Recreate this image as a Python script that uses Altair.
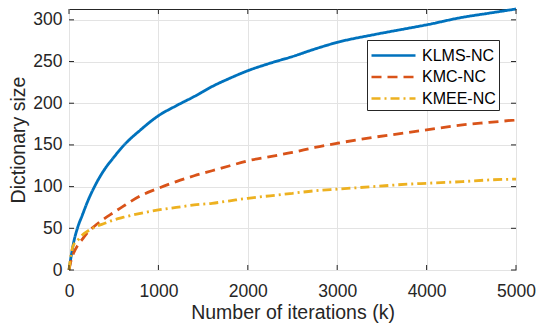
import altair as alt
import pandas as pd

# ---- data ----
iters = [0, 25, 50, 100, 150, 200, 300, 400, 500, 600, 800, 1000, 1200, 1400,
         1600, 1800, 2000, 2250, 2500, 2750, 3000, 3400, 3800, 4000, 4400, 4700, 5000]
klms_nc = [0, 17, 32, 52, 66, 80, 103, 121, 135, 148, 168, 185, 197, 208,
           220, 230, 239, 248, 256, 265, 273, 282, 290, 294, 303, 308, 313]
kmc_nc = [0, 12, 20, 30, 37, 44, 54, 62, 69, 76, 89, 98, 106, 113,
          119, 125, 131, 136, 141, 147, 152, 159, 165, 168, 174, 177, 180]
kmee_nc = [0, 20, 30, 36, 42, 46, 52, 56, 60, 63, 68, 72, 75, 78,
           80, 83, 86, 89, 92, 95, 97, 100, 103, 104, 106, 108, 109]

series = ["KLMS-NC", "KMC-NC", "KMEE-NC"]
colors = ["#0072BD", "#D95319", "#EDB120"]
dashes = [[1, 0], [10, 6], [9, 4, 2, 4]]
x_ticks = [0, 1000, 2000, 3000, 4000, 5000]
y_ticks = [0, 50, 100, 150, 200, 250, 300]
x_domain = [0, 5000]
y_domain = [0, 313]

W, H = 447, 261
FONT = "Liberation Sans"
INK = "#262626"

rows = []
for name, vals in zip(series, [klms_nc, kmc_nc, kmee_nc]):
    for k, v in zip(iters, vals):
        rows.append({"k": k, "size": v, "series": name, "order": series.index(name)})
df = pd.DataFrame(rows)

xscale = alt.Scale(domain=x_domain, nice=False, zero=False)
yscale = alt.Scale(domain=y_domain, nice=False, zero=False)
xaxis = alt.Axis(values=x_ticks, title="Number of iterations (k)",
                 grid=True, ticks=False, tickSize=0, domain=False,
                 labelFlush=False, labelOverlap=False,
                 labelPadding=12, titlePadding=4, format="d")
yaxis = alt.Axis(values=y_ticks, title="Dictionary size",
                 grid=True, ticks=False, tickSize=0, domain=False,
                 labelFlush=False, labelOverlap=False,
                 labelPadding=7, titlePadding=4)

legend = alt.Legend(
    title=None, orient="none", legendX=298, legendY=31,
    strokeColor=INK, fillColor="white", padding=3, cornerRadius=0,
    symbolType="M-1,0L3,0", symbolSize=484, symbolStrokeWidth=2.5,
    labelFont=FONT, labelFontSize=16, labelColor="black", labelOffset=27,
    rowPadding=0.5,
)

lines = alt.Chart(df).mark_line(strokeWidth=2.8, interpolate="monotone").encode(
    x=alt.X("k:Q", scale=xscale, axis=xaxis),
    y=alt.Y("size:Q", scale=yscale, axis=yaxis),
    color=alt.Color("series:N", scale=alt.Scale(domain=series, range=colors), legend=legend),
    strokeDash=alt.StrokeDash("series:N", scale=alt.Scale(domain=series, range=dashes), legend=legend),
    order="order:Q",
)

xt = pd.DataFrame({"t": x_ticks})
yt = pd.DataFrame({"t": y_ticks})
TL = 5
tick_style = dict(color=INK, strokeWidth=1)
top_ticks = alt.Chart(xt).mark_rule(**tick_style).encode(
    x=alt.X("t:Q", scale=xscale, axis=xaxis), y=alt.value(0), y2=alt.value(TL))
bot_ticks = alt.Chart(xt).mark_rule(**tick_style).encode(
    x=alt.X("t:Q", scale=xscale, axis=xaxis), y=alt.value(H), y2=alt.value(H - TL))
left_ticks = alt.Chart(yt).mark_rule(**tick_style).encode(
    y=alt.Y("t:Q", scale=yscale, axis=yaxis), x=alt.value(0), x2=alt.value(TL))
right_ticks = alt.Chart(yt).mark_rule(**tick_style).encode(
    y=alt.Y("t:Q", scale=yscale, axis=yaxis), x=alt.value(W - TL), x2=alt.value(W))

chart = alt.layer(lines, top_ticks, bot_ticks, left_ticks, right_ticks).properties(
    width=W, height=H,
    autosize=alt.AutoSizeParams(type="none"),
    padding={"left": 69, "top": 9, "right": 22, "bottom": 60},
    background="white",
).configure_view(
    stroke=INK, strokeWidth=1,
).configure_axis(
    labelFont=FONT, labelFontSize=17.5, labelColor=INK,
    titleFont=FONT, titleFontSize=19.5, titleColor=INK, titleFontWeight="normal",
    gridColor="#e3e3e3", gridWidth=1,
)

chart.save("out.html", embed_options={"renderer": "svg", "actions": False})
